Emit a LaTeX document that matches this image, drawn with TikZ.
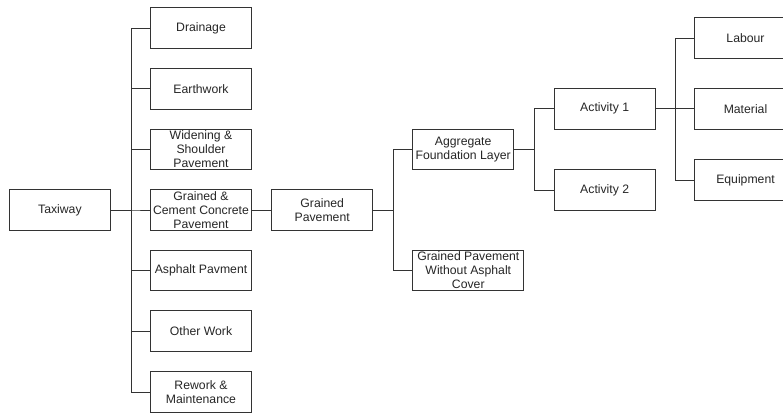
\documentclass[tikz,border=0pt]{standalone}
\usepackage{fontspec}
\setmainfont{Liberation Sans}
\usetikzlibrary{positioning}

\tikzset{
    wbsbox/.style={draw=black!80, line width=0.7pt, fill=white, text=black!85,
        minimum width=2.53cm, minimum height=1.02cm, align=center,
        inner sep=1pt, font=\fontsize{8.7}{10}\selectfont},
    wbsline/.style={draw=black!80, line width=0.7pt}
}

\begin{document}
\begin{tikzpicture}[x=0.025cm, y=-0.025cm]

    % Frame of the picture
    \useasboundingbox (0,0) rectangle (783,414);
    \clip (0,0) rectangle (783,414);

    %% Level 1
    \node[wbsbox] (taxiway) at (59.9,210) {Taxiway};

    %% Level 2: work groups
    \node[wbsbox] (drainage)  at (201,28)    {Drainage};
    \node[wbsbox] (earthwork) at (201,88.7)  {Earthwork};
    \node[wbsbox] (widening)  at (201,149.5) {Widening \&\\Shoulder\\Pavement};
    \node[wbsbox] (gcc)       at (201,210)   {Grained \&\\Cement Concrete\\Pavement};
    \node[wbsbox] (asphalt)   at (201,270.5) {Asphalt Pavment};
    \node[wbsbox] (other)     at (201,331)   {Other Work};
    \node[wbsbox] (rework)    at (201,392)   {Rework \&\\Maintenance};

    %% Level 3
    \node[wbsbox] (gp) at (322.2,210) {Grained\\Pavement};

    %% Level 4
    \node[wbsbox] (agg) at (463.2,149.5) {Aggregate\\Foundation Layer};
    \node[wbsbox, minimum width=2.78cm] (gpw) at (468.3,270.5) {Grained Pavement\\Without Asphalt\\Cover};

    %% Level 5: activities
    \node[wbsbox] (act1) at (604.7,108.7) {Activity 1};
    \node[wbsbox] (act2) at (604.7,190)   {Activity 2};

    %% Level 6: resources
    \node[wbsbox] (labour)    at (745.5,38)    {Labour};
    \node[wbsbox] (material)  at (745.5,108.7) {Material};
    \node[wbsbox] (equipment) at (745.5,180)   {Equipment};

    % Connectors from Taxiway
    \foreach \child in {drainage, earthwork, widening, gcc, asphalt, other, rework}
        \draw[wbsline] (taxiway.east) -- ++(20,0) |- (\child.west);

    % Grained & Cement Concrete Pavement to Grained Pavement
    \draw[wbsline] (gcc.east) -- (gp.west);

    % Grained Pavement to its parts
    \foreach \child in {agg, gpw}
        \draw[wbsline] (gp.east) -- ++(20,0) |- (\child.west);

    % Aggregate layer to activities
    \foreach \child in {act1, act2}
        \draw[wbsline] (agg.east) -- ++(20,0) |- (\child.west);

    % Activity 1 to resources
    \foreach \child in {labour, material, equipment}
        \draw[wbsline] (act1.east) -- ++(20,0) |- (\child.west);

\end{tikzpicture}
\end{document}
